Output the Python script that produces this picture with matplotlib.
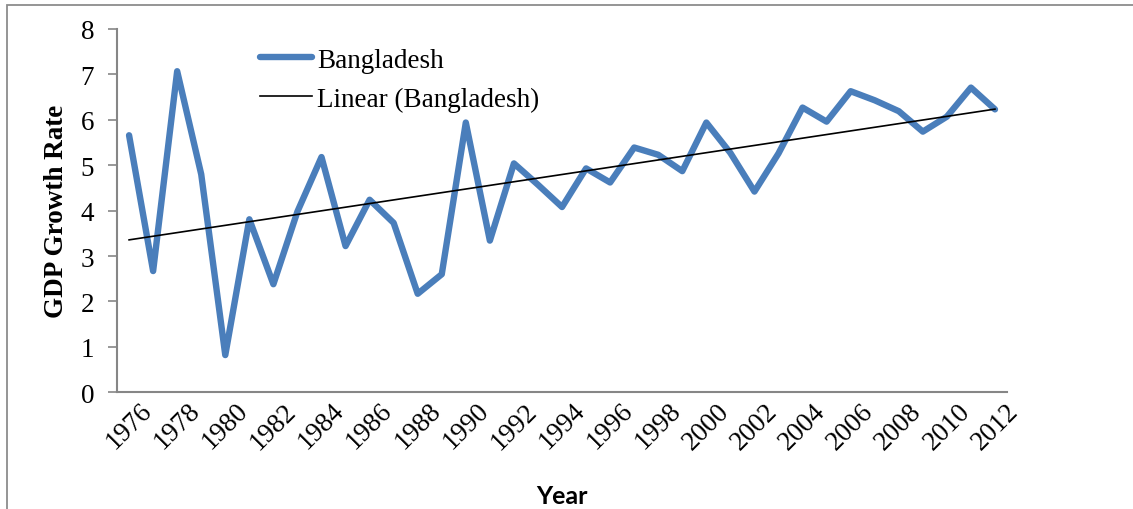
import numpy as np
import matplotlib.pyplot as plt
from matplotlib.patches import Rectangle

# data
years = list(range(1976, 2013))
gdp_growth = [5.66, 2.67, 7.07, 4.80, 0.82, 3.81, 2.38, 3.98, 5.18, 3.22,
              4.24, 3.73, 2.17, 2.60, 5.94, 3.34, 5.04, 4.57, 4.08, 4.93,
              4.62, 5.39, 5.23, 4.87, 5.94, 5.27, 4.42, 5.26, 6.27, 5.96,
              6.63, 6.43, 6.19, 5.74, 6.07, 6.71, 6.23]
tick_years = [str(y) for y in years[::2]]

serif = ['Liberation Serif', 'DejaVu Serif']
plt.rcParams['font.family'] = serif

fig = plt.figure(figsize=(11.33, 5.10), dpi=100)
ax = fig.add_axes([0.1033, 0.2288, 0.7855, 0.7124])

x = np.arange(len(years))
ax.plot(x, gdp_growth, color='#4a7ebb', lw=4.6, solid_joinstyle='round',
        solid_capstyle='round', label='Bangladesh')

# linear trend
k, b = np.polyfit(x, gdp_growth, 1)
ax.plot(x, k * x + b, color='black', lw=1.2, label='Linear (Bangladesh)')

ax.set_xlim(-0.5, len(years) - 0.5)
ax.set_ylim(0, 8)
ax.set_yticks(range(0, 9))
ax.set_xticks(x[::2])
ax.set_xticklabels(tick_years, rotation=45, ha='center', va='top')

for s in ['top', 'right']:
    ax.spines[s].set_visible(False)
for s in ['left', 'bottom']:
    ax.spines[s].set_color('#868686')
    ax.spines[s].set_linewidth(1.5)

ax.tick_params(axis='y', direction='out', length=6.5, width=1.2,
               color='#868686', labelsize=19.5, pad=10)
ax.tick_params(axis='x', length=0, labelsize=19.5, pad=4)

ax.set_ylabel('GDP Growth Rate', fontsize=19.5, fontweight='bold', labelpad=8)
ax.set_xlabel('Year', fontsize=18, fontweight='bold',
              family=['Lato', 'DejaVu Sans'], labelpad=22)

ax.legend(loc='upper left', bbox_to_anchor=(0.1607, 0.948), frameon=False,
          fontsize=19.5, handlelength=1.93, handletextpad=0.19,
          labelspacing=0.5, borderpad=0, borderaxespad=0)

# outer chart border
fig.patches.append(Rectangle((7 / 1133, -0.1), 2, 1 - 6 / 510 + 0.1,
                             transform=fig.transFigure, fill=False,
                             edgecolor='#8c8c8c', lw=1.3, clip_on=False))

fig.savefig('out.png', dpi=100)
